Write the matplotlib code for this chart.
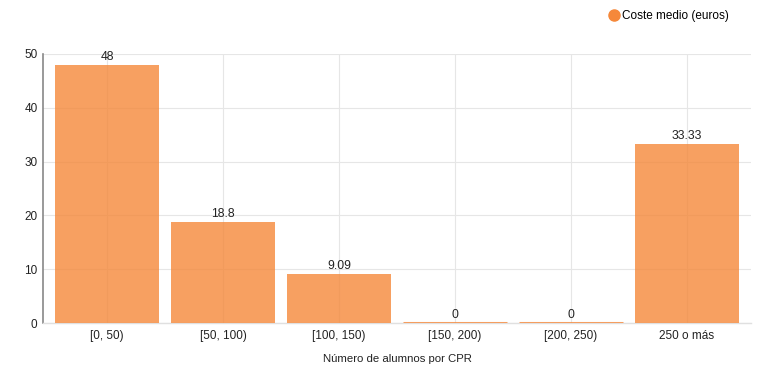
import matplotlib
matplotlib.use("Agg")
import matplotlib.pyplot as plt
from matplotlib.lines import Line2D

categories = ["[0, 50)", "[50, 100)", "[100, 150)", "[150, 200)", "[200, 250)", "250 o más"]
values = [48, 18.8, 9.09, 0, 0, 33.33]
labels = ["48", "18.8", "9.09", "0", "0", "33.33"]
series_name = "Coste medio (euros)"
yticks = [0, 10, 20, 30, 40, 50]

plt.rcParams['font.family'] = ['Liberation Sans', 'DejaVu Sans']
fig = plt.figure(figsize=(7.8, 3.82), dpi=100)
ax = fig.add_axes([43/780, 1-323/382, 708/780, 269/382])

bar_color = "#F5883A"
bar_w = 0.897
x = list(range(len(categories)))
ax.bar(x, values, width=bar_w, color=bar_color, alpha=0.8, linewidth=0, zorder=3)
zero_x = [xi for xi, v in zip(x, values) if v == 0]
zero_v = [v for v in values if v == 0]
ax.hlines(zero_v, [xi - bar_w/2 for xi in zero_x], [xi + bar_w/2 for xi in zero_x],
          color=bar_color, alpha=0.8, linewidth=2.2, zorder=3)
for xi, v, lab in zip(x, values, labels):
    ax.text(xi, v + 0.4, lab, ha="center", va="bottom", fontsize=8.7, color="#222222", zorder=4)

pad = 64/116
ax.set_xlim(-pad, len(categories) - 1 + pad)
ax.set_ylim(0, 50)
ax.set_yticks(yticks)
ax.set_xticks(x)
ax.set_xticklabels(categories)
ax.tick_params(axis="both", length=0, labelsize=8.5, colors="#222222")
ax.tick_params(axis="x", pad=5)
ax.tick_params(axis="y", pad=4)
ax.grid(True, color="#E6E6E6", linewidth=0.8, zorder=0)
for s in ["top", "right"]:
    ax.spines[s].set_visible(False)
ax.spines["left"].set_color("#888888")
ax.spines["left"].set_linewidth(1.2)
ax.spines["bottom"].set_color("#E0E0E0")
ax.spines["bottom"].set_linewidth(1)
ax.set_xlabel("Número de alumnos por CPR", fontsize=8.2, color="#222222", labelpad=9)

handle = Line2D([], [], marker="o", linestyle="none", markersize=8, color="#F5883A")
fig.legend([handle], [series_name], loc="upper right", bbox_to_anchor=(0.945, 0.995),
           frameon=False, fontsize=8.5, handletextpad=-0.3, borderaxespad=0.3)

fig.savefig("out.png", dpi=100)
